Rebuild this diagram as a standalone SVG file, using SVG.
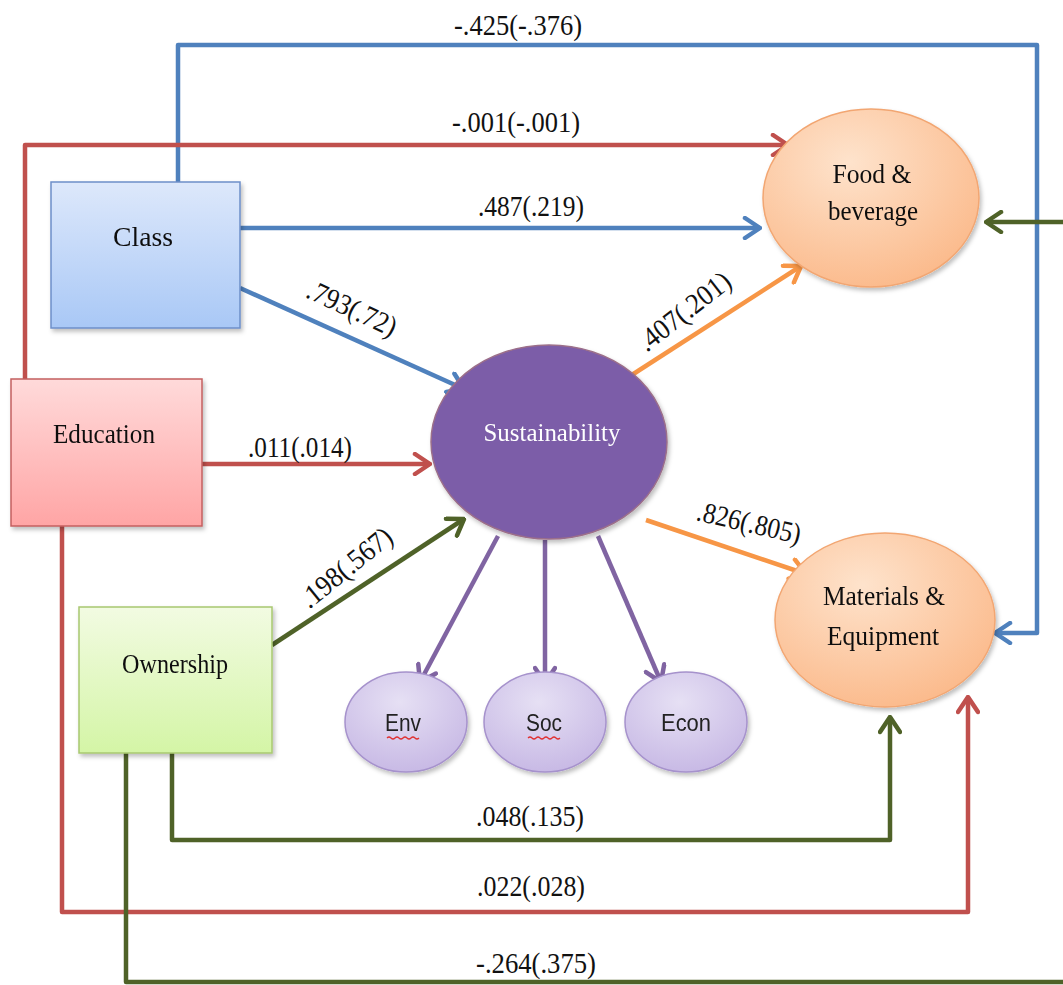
<svg xmlns="http://www.w3.org/2000/svg" width="1063" height="985" viewBox="0 0 1063 985">
<defs>
<style>
.lbl{font-family:"Liberation Serif",serif;font-size:29px;fill:#111;text-anchor:middle}
.nl{font-family:"Liberation Serif",serif;font-size:28px;fill:#111;text-anchor:middle}
.sl{font-family:"Liberation Sans",sans-serif;font-size:23px;fill:#222;text-anchor:middle}
.c{fill:none;stroke-width:4.5;stroke-linejoin:round}
.b{stroke:#4f81bd}.r{stroke:#c0504d}.g{stroke:#4f6228}.o{stroke:#f79646}.p{stroke:#8064a2}
</style>
<linearGradient id="gB" x1="0" y1="0" x2="0" y2="1"><stop offset="0" stop-color="#dde8fb"/><stop offset="1" stop-color="#a9c8f6"/></linearGradient>
<linearGradient id="gR" x1="0" y1="0" x2="0" y2="1"><stop offset="0" stop-color="#ffdada"/><stop offset="1" stop-color="#ffa5a5"/></linearGradient>
<linearGradient id="gG" x1="0" y1="0" x2="0" y2="1"><stop offset="0" stop-color="#f2fbe2"/><stop offset="1" stop-color="#d4f5a6"/></linearGradient>
<radialGradient id="gO" cx="0.4" cy="0.3" r="0.75"><stop offset="0" stop-color="#fee3cc"/><stop offset="1" stop-color="#fbb98a"/></radialGradient>
<radialGradient id="gL" cx="0.45" cy="0.3" r="0.75"><stop offset="0" stop-color="#e6e0f4"/><stop offset="1" stop-color="#c6b7e4"/></radialGradient>
<filter id="sh" x="-10%" y="-10%" width="130%" height="130%"><feDropShadow dx="2" dy="3" stdDeviation="2" flood-color="#000" flood-opacity="0.25"/></filter>
<marker id="aB" viewBox="0 0 20 24" refX="18" refY="12" markerWidth="20" markerHeight="24" markerUnits="userSpaceOnUse" orient="auto"><path d="M3,2 L18,12 L3,22" fill="none" stroke="#4f81bd" stroke-width="4.5" stroke-linecap="round" stroke-linejoin="round"/></marker>
<marker id="aR" viewBox="0 0 20 24" refX="18" refY="12" markerWidth="20" markerHeight="24" markerUnits="userSpaceOnUse" orient="auto"><path d="M3,2 L18,12 L3,22" fill="none" stroke="#c0504d" stroke-width="4.5" stroke-linecap="round" stroke-linejoin="round"/></marker>
<marker id="aG" viewBox="0 0 20 24" refX="18" refY="12" markerWidth="20" markerHeight="24" markerUnits="userSpaceOnUse" orient="auto"><path d="M3,2 L18,12 L3,22" fill="none" stroke="#4f6228" stroke-width="4.5" stroke-linecap="round" stroke-linejoin="round"/></marker>
<marker id="aO" viewBox="0 0 20 24" refX="18" refY="12" markerWidth="20" markerHeight="24" markerUnits="userSpaceOnUse" orient="auto"><path d="M3,2 L18,12 L3,22" fill="none" stroke="#f79646" stroke-width="4.5" stroke-linecap="round" stroke-linejoin="round"/></marker>
<marker id="aP" viewBox="0 0 20 24" refX="18" refY="12" markerWidth="20" markerHeight="24" markerUnits="userSpaceOnUse" orient="auto"><path d="M3,2 L18,12 L3,22" fill="none" stroke="#8064a2" stroke-width="4.5" stroke-linecap="round" stroke-linejoin="round"/></marker>
</defs>
<rect width="1063" height="985" fill="#ffffff"/>

<g id="connectors">
<path class="c b" d="M178,182 V45 H1037 V633 H995" marker-end="url(#aB)"/>
<path class="c r" d="M25,380 V145 H788" marker-end="url(#aR)"/>
<path class="c b" d="M240,228 H760" marker-end="url(#aB)"/>
<path class="c b" d="M240,288 L464,389" marker-end="url(#aB)"/>
<path class="c r" d="M202,464 H430" marker-end="url(#aR)"/>
<path class="c g" d="M272,645 L464,519" marker-end="url(#aG)"/>
<path class="c o" d="M624,380 L801,266" marker-end="url(#aO)"/>
<path class="c o" d="M646,520 L806,574" marker-end="url(#aO)"/>
<path class="c p" d="M498,536 L420,682" marker-end="url(#aP)"/>
<path class="c p" d="M545,540 V683" marker-end="url(#aP)"/>
<path class="c p" d="M598,536 L661,682" marker-end="url(#aP)"/>
<path class="c g" d="M1065,222 H986" marker-end="url(#aG)"/>
<path class="c g" d="M172,753 V840 H890 V717" marker-end="url(#aG)"/>
<path class="c r" d="M62,526 V912 H968 V697" marker-end="url(#aR)"/>
<path class="c g" d="M126,753 V982 H1065"/>
</g>

<g id="edge-labels">
<text class="lbl" x="518" y="35" textLength="128" lengthAdjust="spacingAndGlyphs">-.425(-.376)</text>
<text class="lbl" x="516" y="132" textLength="128" lengthAdjust="spacingAndGlyphs">-.001(-.001)</text>
<text class="lbl" x="531" y="216" textLength="106" lengthAdjust="spacingAndGlyphs">.487(.219)</text>
<text class="lbl" transform="translate(348,317) rotate(25)" textLength="96" lengthAdjust="spacingAndGlyphs">.793(.72)</text>
<text class="lbl" x="300" y="457" textLength="104" lengthAdjust="spacingAndGlyphs">.011(.014)</text>
<text class="lbl" transform="translate(352,575) rotate(-39)" textLength="110" lengthAdjust="spacingAndGlyphs">.198(.567)</text>
<text class="lbl" transform="translate(690,319) rotate(-38)" textLength="110" lengthAdjust="spacingAndGlyphs">.407(.201)</text>
<text class="lbl" transform="translate(747,532) rotate(13)" textLength="106" lengthAdjust="spacingAndGlyphs">.826(.805)</text>
<text class="lbl" x="530" y="826" textLength="108" lengthAdjust="spacingAndGlyphs">.048(.135)</text>
<text class="lbl" x="531" y="896" textLength="108" lengthAdjust="spacingAndGlyphs">.022(.028)</text>
<text class="lbl" x="536" y="973" textLength="120" lengthAdjust="spacingAndGlyphs">-.264(.375)</text>
</g>

<g id="class" filter="url(#sh)">
<rect x="51" y="182" width="189" height="146" fill="url(#gB)" stroke="#6d8fc9" stroke-width="1.5"/>
<text class="nl" x="143" y="246" textLength="60" lengthAdjust="spacingAndGlyphs">Class</text>
</g>
<g id="education" filter="url(#sh)">
<rect x="11" y="379" width="191" height="147" fill="url(#gR)" stroke="#c46060" stroke-width="1.5"/>
<text class="nl" x="104" y="443" textLength="102" lengthAdjust="spacingAndGlyphs">Education</text>
</g>
<g id="ownership" filter="url(#sh)">
<rect x="79" y="607" width="193" height="146" fill="url(#gG)" stroke="#a8c870" stroke-width="1.5"/>
<text class="nl" x="175" y="673" textLength="106" lengthAdjust="spacingAndGlyphs">Ownership</text>
</g>
<g id="sustainability" filter="url(#sh)">
<ellipse cx="549" cy="442" rx="118" ry="97" fill="#7b5da8" stroke="#9c6f8a" stroke-width="1.5"/>
<text class="nl" x="552" y="441" style="fill:#fff;font-size:26px" textLength="137" lengthAdjust="spacingAndGlyphs">Sustainability</text>
</g>
<g id="food" filter="url(#sh)">
<ellipse cx="871" cy="198" rx="108" ry="89" fill="url(#gO)" stroke="#f2a672" stroke-width="1.5"/>
<text class="nl" x="872" y="183" textLength="79" lengthAdjust="spacingAndGlyphs">Food &amp;</text>
<text class="nl" x="873" y="220" textLength="90" lengthAdjust="spacingAndGlyphs">beverage</text>
</g>
<g id="materials" filter="url(#sh)">
<ellipse cx="885" cy="620" rx="110" ry="87" fill="url(#gO)" stroke="#f2a672" stroke-width="1.5"/>
<text class="nl" x="884" y="605" textLength="122" lengthAdjust="spacingAndGlyphs">Materials &amp;</text>
<text class="nl" x="883" y="645" textLength="112" lengthAdjust="spacingAndGlyphs">Equipment</text>
</g>
<g id="env" filter="url(#sh)">
<ellipse cx="406" cy="722" rx="61" ry="50" fill="url(#gL)" stroke="#a692cc" stroke-width="1.5"/>
<text class="sl" x="403" y="731" textLength="36" lengthAdjust="spacingAndGlyphs">Env</text>
<path d="M387,738 q2,-2 4,0 t4,0 t4,0 t4,0 t4,0 t4,0 t4,0 t4,0" fill="none" stroke="#e03030" stroke-width="1.2"/>
</g>
<g id="soc" filter="url(#sh)">
<ellipse cx="545" cy="722" rx="61" ry="50" fill="url(#gL)" stroke="#a692cc" stroke-width="1.5"/>
<text class="sl" x="544" y="731" textLength="36" lengthAdjust="spacingAndGlyphs">Soc</text>
<path d="M528,738 q2,-2 4,0 t4,0 t4,0 t4,0 t4,0 t4,0 t4,0 t4,0" fill="none" stroke="#e03030" stroke-width="1.2"/>
</g>
<g id="econ" filter="url(#sh)">
<ellipse cx="686" cy="722" rx="61" ry="50" fill="url(#gL)" stroke="#a692cc" stroke-width="1.5"/>
<text class="sl" x="686" y="731" textLength="50" lengthAdjust="spacingAndGlyphs">Econ</text>
</g>
</svg>
